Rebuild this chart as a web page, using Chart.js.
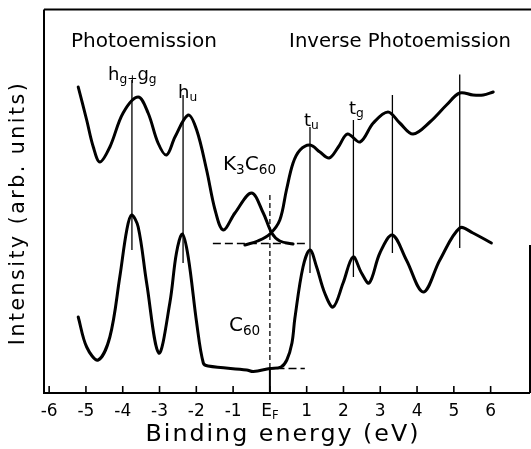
<!DOCTYPE html>
<html><head><meta charset="utf-8">
<script src="https://cdn.jsdelivr.net/npm/chart.js@4.4.1/dist/chart.umd.min.js"></script>
<style>html,body{margin:0;padding:0;background:#fff;}canvas{display:block;}</style>
</head><body>
<canvas id="c" width="531" height="449"></canvas>
<script>
// ---- data (binding energy in eV, intensity in arb. units) ----
const k3c60PesX = [-5.21,-4.98,-4.80,-4.62,-4.35,-3.99,-3.58,-3.31,-3.04,-2.81,-2.58,-2.22,-1.99,-1.72,-1.49,-1.27,-0.95,-0.50,-0.18,0.05,0.27,0.63];
const k3c60PesY = [306,273,246,231,246,280,296,280,250,238,256,278,263,223,183,163,180,200,180,160,152,149];
const k3c60IpesX = [-0.68,-0.33,0.00,0.27,0.45,0.63,0.82,1.09,1.36,1.61,1.86,2.11,2.45,2.81,3.21,3.53,3.89,4.35,4.80,5.16,5.52,5.80,6.07];
const k3c60IpesY = [148,152,159,173,203,230,243,248,241,235,246,259,251,270,281,270,259,271,288,300,298,298,301];
const c60X = [-5.21,-4.98,-4.67,-4.35,-4.08,-3.89,-3.76,-3.58,-3.35,-3.02,-2.72,-2.54,-2.38,-2.22,-1.99,-1.81,-1.68,-0.63,-0.45,0.00,0.30,0.46,0.60,0.68,0.90,1.09,1.27,1.49,1.72,1.99,2.26,2.49,2.70,2.99,3.33,3.71,4.17,4.62,5.16,5.52,6.02];
const c60Y = [76,46,33,56,116,163,178,166,110,40,90,140,159,136,70,30,27,23,21.5,24.5,26,33,50,75,126,143,126,100,86,110,136,120,110,140,158,133,101,133,165,160,150];
// peak marker lines (h_g+g_g, h_u, t_u, t_g, and two higher IPES features)
const peakLineX = [-3.75,-2.36,1.09,2.27,3.33,5.16];
const peakLineTop = [313,298,266,273,298,318.5];
const peakLineBottom = [143,130,120,116,140,145];
// Fermi level and baselines
const fermiLevel = 0;
const fermiTop = 198;
const k3c60BaseX = [-1.55,1.0];
const k3c60BaseY = 149.5;
const c60BaseX = [0.18,0.95];
const c60BaseY = 24.5;
// ticks
const tickValues = [-6,-5,-4,-3,-2,-1,0,1,2,3,4,5,6];
const tickLabels = ['-6','-5','-4','-3','-2','-1','E_F','1','2','3','4','5','6'];
const xTitle = 'Binding energy (eV)';
const yTitle = 'Intensity (arb. units)';
const leftHeading = 'Photoemission';
const rightHeading = 'Inverse Photoemission';

const FONT = '"DejaVu Sans", sans-serif';
const pts = (xs, ys) => xs.map((x,i)=>({x:x, y:Array.isArray(ys)?ys[i]:ys}));

const curve = (data) => ({data, showLine:true, borderColor:'#000', borderWidth:3, pointRadius:0, tension:0.35, fill:false, borderJoinStyle:'round', borderCapStyle:'round'});
const thin = (data, dash) => ({data, showLine:true, borderColor:'#000', borderWidth:1.3, pointRadius:0, tension:0, borderDash: dash||[], fill:false});

const datasets = [
  curve(pts(k3c60PesX,k3c60PesY)),
  curve(pts(k3c60IpesX,k3c60IpesY)),
  curve(pts(c60X,c60Y)),
];
peakLineX.forEach((x,i)=>datasets.push(thin([{x,y:peakLineTop[i]},{x,y:peakLineBottom[i]}])));
datasets.push(thin([{x:fermiLevel,y:fermiTop},{x:fermiLevel,y:c60BaseY}],[5,3]));
datasets.push({...thin([{x:fermiLevel,y:c60BaseY},{x:fermiLevel,y:0}]), borderWidth:2});
datasets.push(thin(pts(k3c60BaseX,k3c60BaseY),[8,4]));
datasets.push(thin(pts(c60BaseX,c60BaseY),[8,4]));

function rich(ctx, segs, x, y, size){
  let cx = x;
  segs.forEach(([t,sub])=>{
    const s = sub ? size*0.68 : size;
    ctx.font = `${s}px ${FONT}`;
    ctx.textBaseline = 'alphabetic';
    ctx.textAlign = 'left';
    ctx.fillText(t, cx, y + (sub ? size*0.18 : 0));
    cx += ctx.measureText(t).width;
  });
}
function fit(ctx, text, w, ls){
  ctx.font = `100px ${FONT}`;
  ctx.letterSpacing = '0px';
  const m = ctx.measureText(text).width;
  return (w - (ls||0)*(text.length-1))*100/m;
}

const deco = {
  id:'deco',
  afterDraw(chart){
    const ctx = chart.ctx, a = chart.chartArea, xs = chart.scales.x;
    ctx.save();
    ctx.strokeStyle='#000'; ctx.fillStyle='#000'; ctx.lineWidth=2;
    // frame
    ctx.beginPath();
    ctx.moveTo(a.left, a.top); ctx.lineTo(531, a.top);
    ctx.moveTo(a.left, a.top); ctx.lineTo(a.left, a.bottom); ctx.lineTo(a.right, a.bottom);
    ctx.moveTo(a.right, a.bottom); ctx.lineTo(a.right, a.bottom-148);
    ctx.stroke();
    // ticks
    ctx.lineWidth=1.6;
    tickValues.forEach((v,i)=>{
      const px = xs.getPixelForValue(v);
      ctx.beginPath(); ctx.moveTo(px, a.bottom); ctx.lineTo(px, a.bottom-7); ctx.stroke();
      const lab = tickLabels[i];
      if(lab==='E_F'){
        ctx.font = `17px ${FONT}`; const w1 = ctx.measureText('E').width;
        ctx.font = `${17*0.68}px ${FONT}`; const w2 = ctx.measureText('F').width;
        rich(ctx, [['E',false],['F',true]], px-(w1+w2)/2, a.bottom+23, 17);
      } else {
        ctx.font = `17px ${FONT}`; ctx.textAlign='center'; ctx.textBaseline='alphabetic';
        ctx.fillText(lab, px, a.bottom+23);
      }
    });
    // axis titles
    let s = fit(ctx, xTitle, 273, 2);
    ctx.font = `${s}px ${FONT}`; ctx.letterSpacing='2px'; ctx.textAlign='center'; ctx.textBaseline='middle';
    ctx.fillText(xTitle, 283, 435);
    s = fit(ctx, yTitle, 262, 2.5);
    ctx.save(); ctx.translate(19, 213); ctx.rotate(-Math.PI/2);
    ctx.font = `${s}px ${FONT}`; ctx.letterSpacing='2.5px'; ctx.textAlign='center'; ctx.textBaseline='middle';
    ctx.fillText(yTitle, 0, 0); ctx.restore();
    ctx.letterSpacing='0px';
    // headings
    s = fit(ctx, leftHeading, 146);
    ctx.font = `${s}px ${FONT}`; ctx.textAlign='center'; ctx.textBaseline='middle';
    ctx.fillText(leftHeading, 144, 42);
    s = fit(ctx, rightHeading, 222);
    ctx.font = `${s}px ${FONT}`;
    ctx.fillText(rightHeading, 400, 42);
    // peak labels
    rich(ctx, [['h',false],['g',true],['+',true],['g',false],['g',true]], 108, 80, 18);
    rich(ctx, [['h',false],['u',true]], 178, 98, 18);
    rich(ctx, [['t',false],['u',true]], 304, 126, 18);
    rich(ctx, [['t',false],['g',true]], 349, 114, 18);
    rich(ctx, [['K',false],['3',true],['C',false],['60',true]], 223, 170, 20);
    rich(ctx, [['C',false],['60',true]], 229, 331, 20);
    ctx.restore();
  }
};

new Chart(document.getElementById('c'), {
  type:'scatter',
  data:{datasets},
  options:{
    responsive:false, animation:false,
    layout:{padding:{left:44, top:9.5, right:1, bottom:56}},
    plugins:{legend:{display:false}, tooltip:{enabled:false}},
    scales:{
      x:{type:'linear', min:-6.14, max:7.07, display:false},
      y:{type:'linear', min:0, max:383.5, display:false}
    }
  },
  plugins:[deco]
});
</script>
</body></html>
